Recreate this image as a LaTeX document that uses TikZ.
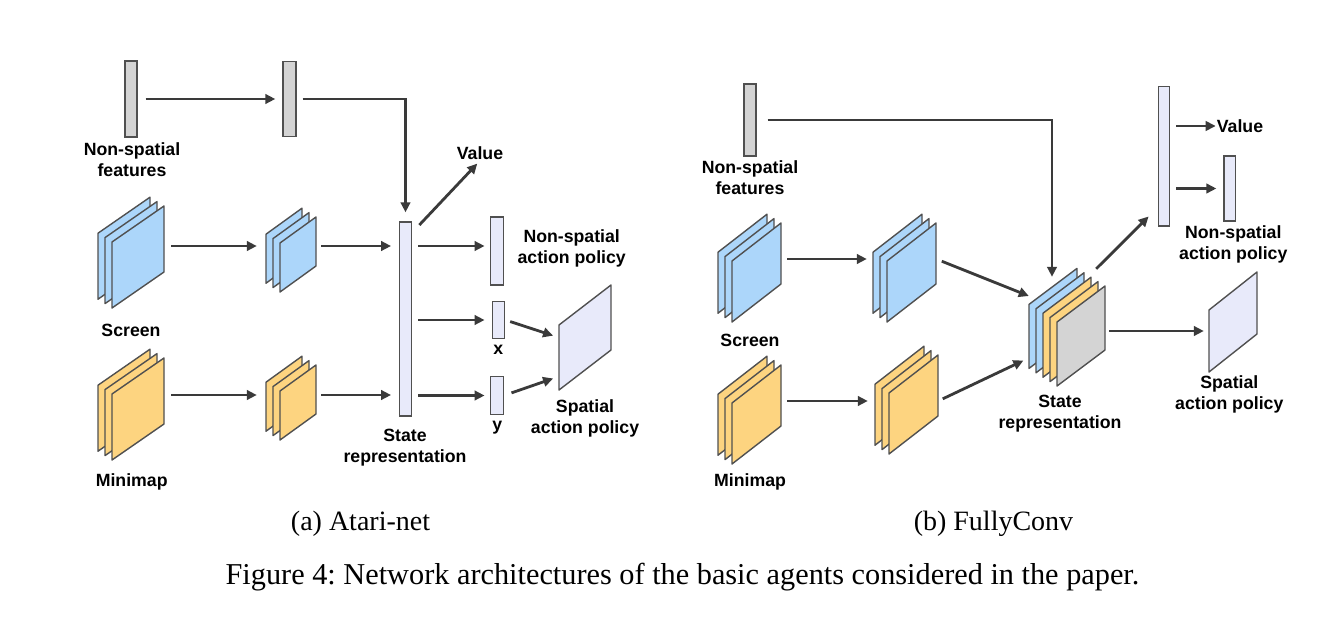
\documentclass[tikz,border=0pt]{standalone}
\usepackage{fontspec}
\setmainfont{Liberation Serif}
\setsansfont{Liberation Sans}
\usepackage{tikz}
\usetikzlibrary{arrows.meta}
\definecolor{edgeGray}{RGB}{80,80,80}
\definecolor{arrowGray}{RGB}{58,58,58}
\definecolor{featGray}{RGB}{212,212,212}
\definecolor{mapBlue}{RGB}{172,214,250}
\definecolor{mapOrange}{RGB}{253,212,128}
\definecolor{stateLilac}{RGB}{232,234,250}
\newcommand*{\dx}{7}
\newcommand*{\dy}{4.4}
% back sheet corner x, y, width, height, rise, colours from back to front
\newcommand*{\sheetstack}[6]{%
  \foreach \col [count=\k from 0] in {#6} {
    \draw[sheet, fill=\col, shift={(\dx*\k,\dy*\k)}]
      (#1,#2) -- ++(0,-#4) -- ++(#3,-#5) -- ++(0,#4) -- cycle;
  }
}
\tikzset{
  bar/.style={draw=edgeGray, line width=1.4pt, inner sep=0pt, minimum width=12pt},
  featbar/.style={bar, fill=featGray},
  lilacbar/.style={bar, fill=stateLilac},
  sheet/.style={draw=edgeGray, line width=1.4pt, line join=round},
  stackbox/.style={draw=none, inner sep=0pt, minimum height=100pt},
  flow/.style={draw=arrowGray, line width=2.8pt,
    -{Triangle[length=10pt,width=9.5pt]}, shorten <=6pt, shorten >=6pt},
  lbl/.style={font=\sffamily\bfseries\fontsize{17.7}{21}\selectfont,
    align=center, inner sep=1pt},
  captext/.style={font=\rmfamily\fontsize{28}{33}\selectfont, inner sep=0pt}
}

\begin{document}
\begin{tikzpicture}[x=1pt,y=-1pt]
    \fill[white] (0,0) rectangle (1326,626);
    \useasboundingbox (0,0) rectangle (1326,626);

    % (a) Atari-net
    \node[featbar, minimum height=76pt] (nsfA1) at (131,99) {};
    \node[featbar, minimum width=13pt, minimum height=75pt] (nsfA2) at (289.5,99) {};
    \node[lbl] (nsfAtext) at (132,160) {Non-spatial\\features};

    \sheetstack{98}{299.2}{52}{66}{36}{mapBlue,mapBlue,mapBlue}
    \sheetstack{98}{451.2}{52}{66}{36}{mapOrange,mapOrange,mapOrange}
    \sheetstack{266}{283.2}{36}{49}{26}{mapBlue,mapBlue,mapBlue}
    \sheetstack{266}{431.2}{36}{49}{26}{mapOrange,mapOrange,mapOrange}
    \node[stackbox, minimum width=66pt] (scrA) at (131,246) {};
    \node[stackbox, minimum width=66pt] (mmA) at (131,395) {};
    \node[stackbox, minimum width=50pt] (scrAc) at (291,246) {};
    \node[stackbox, minimum width=50pt] (mmAc) at (291,395) {};
    \node[lbl] (scrAtext) at (131,330.7) {Screen};
    \node[lbl] (mmAtext) at (131.7,481.7) {Minimap};

    \node[lilacbar, minimum width=12.5pt, minimum height=194pt] (stA) at (405.5,319) {};
    \node[lbl] (stAtext) at (405,448) {State\\representation};
    \node[lbl] (valA) at (480,153) {Value};
    \node[lilacbar, minimum width=12.5pt, minimum height=68pt] (nspA) at (497,251) {};
    \node[lbl] (nspAtext) at (571.7,248) {Non-spatial\\action policy};
    \node[lilacbar, minimum width=12.5pt, minimum height=37.5pt] (xA) at (498.5,320) {};
    \node[lbl] (xAtext) at (498.3,350) {x};
    \node[lilacbar, minimum width=12.5pt, minimum height=38pt] (yA) at (497,395.5) {};
    \node[lbl] (yAtext) at (497.3,427.7) {y};
    \sheetstack{559}{390}{52}{65}{40}{stateLilac}
    \node[stackbox, minimum width=52pt] (spA) at (585,337.5) {};
    \node[lbl] (spAtext) at (585,418) {Spatial\\action policy};

    \draw[flow, shorten <=8pt, shorten >=7pt] (nsfA1) -- (nsfA2);
    \draw[flow, shorten >=9pt] (nsfA2.east) -| (stA.north);
    \draw[flow, shorten <=7pt, shorten >=9pt] (scrA) -- (scrAc);
    \draw[flow, shorten <=7pt, shorten >=9pt] (mmA) -- (mmAc);
    \draw[flow, shorten <=5pt, shorten >=7.5pt] (scrAc) -- (scrAc -| stA.west);
    \draw[flow, shorten <=5pt, shorten >=7.5pt] (mmAc) -- (mmAc -| stA.west);
    \draw[flow, shorten <=10pt, shorten >=4pt] ([yshift=-11pt]stA.north east) -- (valA.south);
    \draw[flow, shorten >=5.5pt] (stA.east |- scrA) -- (nspA.west |- scrA);
    \draw[flow, shorten >=7pt] (stA.east |- xA) -- (xA.west);
    \draw[flow, shorten >=5.5pt] (stA.east |- yA) -- (yA.west);
    \draw[flow, shorten <=5pt] (xA.east) -- (spA.west);
    \draw[flow, shorten <=8pt] (yA.east) -- ([yshift=-39pt]spA.west);

    % (b) FullyConv
    \node[featbar, minimum width=11.7pt, minimum height=72pt] (nsfB) at (750,120) {};
    \node[lbl] (nsfBtext) at (750,178) {Non-spatial\\features};

    \sheetstack{718}{313.2}{49}{61}{38}{mapBlue,mapBlue,mapBlue}
    \sheetstack{718}{455.2}{49}{61}{38}{mapOrange,mapOrange,mapOrange}
    \sheetstack{873}{313.2}{49}{61}{38}{mapBlue,mapBlue,mapBlue}
    \sheetstack{875}{445.2}{49}{61}{38}{mapOrange,mapOrange,mapOrange}
    \node[stackbox, minimum width=63pt] (scrB) at (749.5,259) {};
    \node[stackbox, minimum width=63pt] (mmB) at (749.5,401) {};
    \node[stackbox, minimum width=63pt] (scrBc) at (904.5,259) {};
    \node[stackbox, minimum width=63pt] (mmBc) at (906.5,401) {};
    \node[lbl] (scrBtext) at (750,340) {Screen};
    \node[lbl] (mmBtext) at (750,481.7) {Minimap};

    \sheetstack{1029}{368.4}{48}{64}{36}{mapBlue,mapBlue,mapOrange,mapOrange,featGray}
    \node[stackbox, minimum width=76pt, minimum height=118pt] (stB) at (1067,327) {};
    \node[lbl] (stBtext) at (1060,414) {State\\representation};

    \node[lilacbar, minimum width=11pt, minimum height=139pt] (fcB) at (1163.8,156.3) {};
    \node[lbl] (valB) at (1240,126) {Value};
    \node[lilacbar, minimum width=11.3pt, minimum height=65pt] (nspB) at (1229.7,188.5) {};
    \node[lbl] (nspBtext) at (1233.3,244) {Non-spatial\\action policy};
    \sheetstack{1209}{372}{48}{62}{38}{stateLilac}
    \node[stackbox, minimum width=48pt] (spB) at (1233,331) {};
    \node[lbl] (spBtext) at (1229.3,394.5) {Spatial\\action policy};

    \draw[flow, shorten <=11pt, shorten >=0pt] (nsfB.east) -| ([xshift=-15pt,yshift=-9pt]stB.north);
    \draw[flow] (scrB) -- (scrBc);
    \draw[flow, shorten >=7pt] (mmB) -- (mmBc);
    \draw[flow, shorten >=0pt] (scrBc.east) -- ([yshift=31pt]stB.west);
    \draw[flow, shorten <=5pt] (mmBc.east) -- ([yshift=-31pt]stB.west);
    \draw[flow, shorten <=0pt, shorten >=0pt] ([xshift=-9pt,yshift=-1pt]stB.north east) -- ([xshift=-9pt,yshift=10pt]fcB.south west);
    \draw[flow, shorten >=0pt] (fcB.east |- valB) -- (valB.west);
    \draw[flow, shorten >=7pt] (fcB.east |- nspB) -- (nspB);
    \draw[flow, shorten <=4pt, shorten >=5pt] (stB.east |- spB) -- (spB);

    \node[captext] (capA) at (360.5,524) {(a) Atari-net};
    \node[captext] (capB) at (993.5,524) {(b) FullyConv};
    \node[captext, font=\rmfamily\fontsize{30.3}{36}\selectfont\frenchspacing] (capFig) at (682.5,577) {Figure 4: Network architectures of the basic agents considered in the paper.};
\end{tikzpicture}
\end{document}
